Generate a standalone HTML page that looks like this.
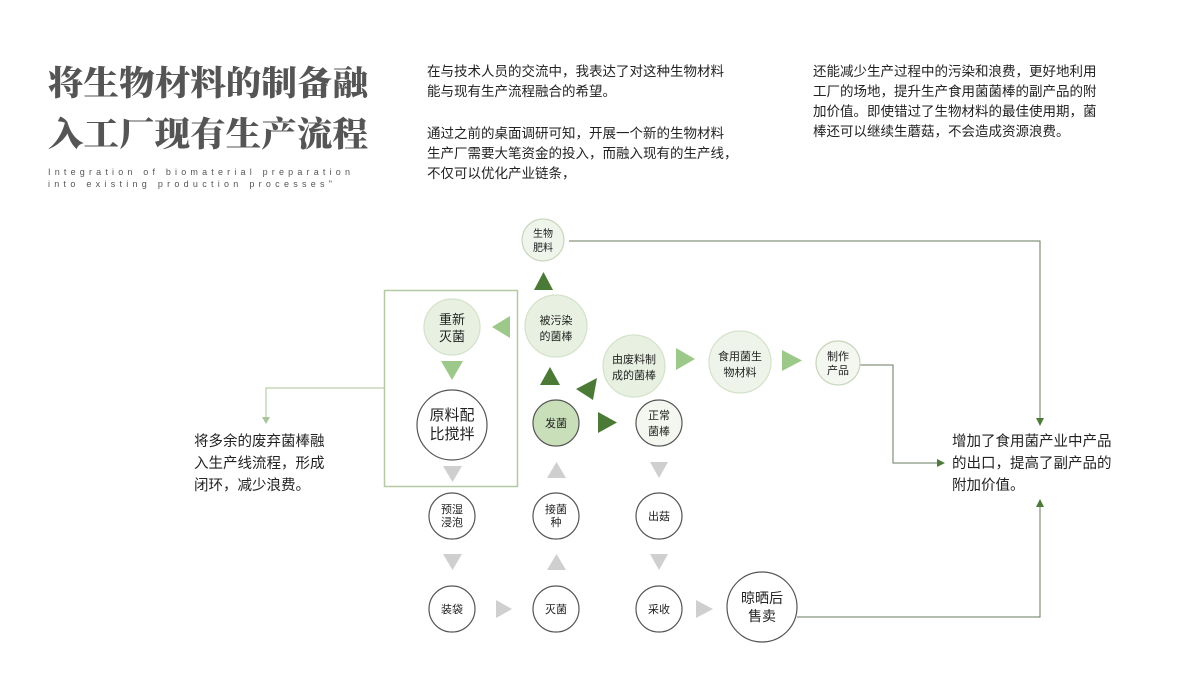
<!DOCTYPE html>
<html><head><meta charset="utf-8"><style>
html,body{margin:0;padding:0;background:#fff;width:1200px;height:675px;overflow:hidden}
svg{display:block}
text{font-family:"Liberation Sans","Noto Sans CJK SC",sans-serif;fill:#222}
.t{font-size:13.5px}
.c{font-size:11px;text-anchor:middle}
.b{font-size:14px;text-anchor:middle}
</style></head><body>
<svg width="1200" height="675" viewBox="0 0 1200 675">
<text x="48" y="95" textLength="320" lengthAdjust="spacingAndGlyphs" style="font-family:'Noto Serif CJK SC',serif;font-weight:900;font-size:34px;fill:#555">将生物材料的制备融</text>
<text x="48" y="146" textLength="320" lengthAdjust="spacingAndGlyphs" style="font-family:'Noto Serif CJK SC',serif;font-weight:900;font-size:34px;fill:#555">入工厂现有生产流程</text>
<text x="48" y="175" textLength="306" style="font-size:9px;letter-spacing:4px;fill:#555">Integration of biomaterial preparation</text>
<text x="48" y="187" textLength="288" style="font-size:9px;letter-spacing:4px;fill:#555">into existing production processes"</text>

<text x="427" y="76" class="t">在与技术人员的交流中，我表达了对这种生物材料</text>
<text x="427" y="96" class="t">能与现有生产流程融合的希望。</text>
<text x="427" y="138" class="t">通过之前的桌面调研可知，开展一个新的生物材料</text>
<text x="427" y="158" class="t">生产厂需要大笔资金的投入，而融入现有的生产线，</text>
<text x="427" y="178" class="t">不仅可以优化产业链条，</text>
<text x="813" y="76" class="t">还能减少生产过程中的污染和浪费，更好地利用</text>
<text x="813" y="96" class="t">工厂的场地，提升生产食用菌菌棒的副产品的附</text>
<text x="813" y="116" class="t">加价值。即使错过了生物材料的最佳使用期，菌</text>
<text x="813" y="136" class="t">棒还可以继续生蘑菇，不会造成资源浪费。</text>

<text x="194" y="446" style="font-size:14.5px">将多余的废弃菌棒融</text>
<text x="194" y="468" style="font-size:14.5px">入生产线流程，形成</text>
<text x="194" y="490" style="font-size:14.5px">闭环，减少浪费。</text>
<text x="952" y="446" style="font-size:14.5px">增加了食用菌产业中产品</text>
<text x="952" y="468" style="font-size:14.5px">的出口，提高了副产品的</text>
<text x="952" y="490" style="font-size:14.5px">附加价值。</text>

<g fill="none" stroke="#6a7a60" stroke-width="1">
<polyline points="569,241 1040,241 1040,420"/>
<polyline points="860,365 893,365 893,463 938,463"/>
<polyline points="797,617 1040,617 1040,505"/>
</g>
<polygon points="1036,418 1044,418 1040,426" fill="#4e7a3a"/>
<polygon points="937,459 937,467 945,463" fill="#4e7a3a"/>
<polygon points="1036,507 1044,507 1040,499" fill="#4e7a3a"/>
<polyline points="384,388 266,388 266,418" fill="none" stroke="#a9c499"/>
<polygon points="262,417 270,417 266,424" fill="#a9c499"/>
<rect x="384.5" y="290.5" width="133" height="196" fill="none" stroke="#b5c9a5" stroke-width="1.5"/>

<g fill="#4a7a35">
<polygon points="534,290 553,290 543.5,272"/>
<polygon points="540,385 560,385 550,367"/>
<polygon points="576,389 597,378 593,400"/>
<polygon points="598,412 598,433 617,422.5"/>
</g>
<g fill="#9cc98a">
<polygon points="510,316 510,338 492,327"/>
<polygon points="441,361 463,361 452,380"/>
<polygon points="676,348 676,370 695,359"/>
<polygon points="782,350 782,371 802,360.5"/>
</g>
<g fill="#cfcfcf">
<polygon points="443,466 462,466 452.5,482"/>
<polygon points="547,478 566,478 556.5,462"/>
<polygon points="650,462 668,462 659,478"/>
<polygon points="443,554 462,554 452.5,570"/>
<polygon points="547,570 566,570 556.5,554"/>
<polygon points="650,554 668,554 659,570"/>
<polygon points="496,600 496,618 512,609"/>
<polygon points="696,600 696,618 713,609"/>
</g>

<g stroke-width="1.2">
<circle cx="543" cy="240" r="21" fill="#f0f5ec" stroke="#c8d6bd"/>
<circle cx="556" cy="326" r="31" fill="#e8f1e1" stroke="#d4e2ca"/>
<circle cx="452" cy="327" r="28" fill="#e8f1e1" stroke="#d4e2ca"/>
<circle cx="452" cy="425" r="35" fill="#fff" stroke="#555"/>
<circle cx="634" cy="366" r="31" fill="#e8f1e1" stroke="#d4e2ca"/>
<circle cx="740" cy="362" r="31" fill="#eef4ea" stroke="#d4e2ca"/>
<circle cx="838" cy="363" r="22" fill="#f3f7f0" stroke="#c8d6bd"/>
<circle cx="556" cy="423" r="23" fill="#c8dfb9" stroke="#555"/>
<circle cx="659" cy="423" r="23" fill="#f3f7ef" stroke="#555"/>
<circle cx="452" cy="516" r="23" fill="#fff" stroke="#555"/>
<circle cx="556" cy="516" r="23" fill="#fff" stroke="#555"/>
<circle cx="659" cy="516" r="23" fill="#fff" stroke="#555"/>
<circle cx="452" cy="609" r="23" fill="#fff" stroke="#555"/>
<circle cx="556" cy="609" r="23" fill="#fff" stroke="#555"/>
<circle cx="659" cy="609" r="23" fill="#fff" stroke="#555"/>
<circle cx="762" cy="607" r="35" fill="#fff" stroke="#555"/>
</g>
<g>
<text x="543" y="237" class="c" style="font-size:10px">生物</text><text x="543" y="251" class="c" style="font-size:10px">肥料</text>
<text x="556" y="324" class="c">被污染</text><text x="556" y="340" class="c">的菌棒</text>
<text x="452" y="324" class="b" style="font-size:13px">重新</text><text x="452" y="341" class="b" style="font-size:13px">灭菌</text>
<text x="452" y="420" class="b" style="font-size:15px">原料配</text><text x="452" y="439" class="b" style="font-size:15px">比搅拌</text>
<text x="634" y="363" class="c">由废料制</text><text x="634" y="379" class="c">成的菌棒</text>
<text x="740" y="360" class="c">食用菌生</text><text x="740" y="376" class="c">物材料</text>
<text x="838" y="360" class="c">制作</text><text x="838" y="374" class="c">产品</text>
<text x="556" y="427" class="c">发菌</text>
<text x="659" y="419" class="c">正常</text><text x="659" y="435" class="c">菌棒</text>
<text x="452" y="513" class="c">预湿</text><text x="452" y="526" class="c">浸泡</text>
<text x="556" y="513" class="c">接菌</text><text x="556" y="526" class="c">种</text>
<text x="659" y="520" class="c">出菇</text>
<text x="452" y="613" class="c">装袋</text>
<text x="556" y="613" class="c">灭菌</text>
<text x="659" y="613" class="c">采收</text>
<text x="762" y="603" class="b" style="font-size:14px">晾晒后</text><text x="762" y="621" class="b" style="font-size:14px">售卖</text>
</g>
</svg>
</body></html>
